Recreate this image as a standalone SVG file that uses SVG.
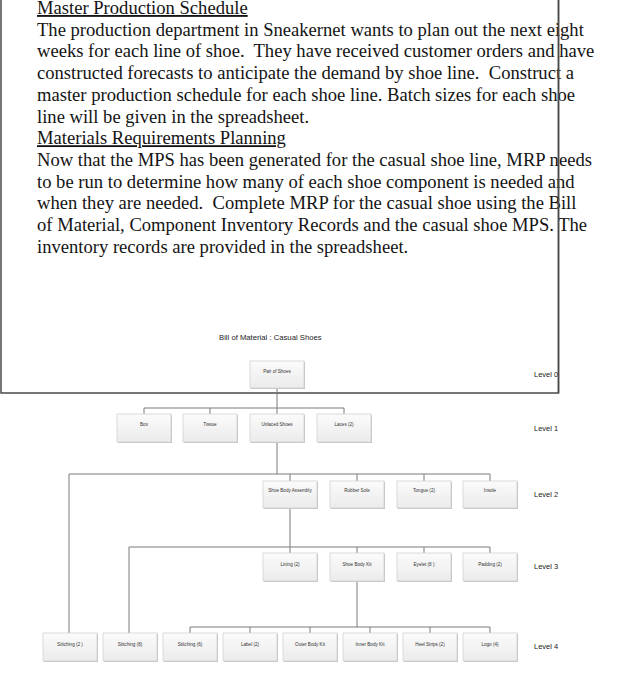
<svg xmlns="http://www.w3.org/2000/svg" width="633" height="700" viewBox="0 0 633 700">
<defs>
<linearGradient id="bg" x1="0" y1="0" x2="0" y2="1">
<stop offset="0" stop-color="#fbfbfb"/>
<stop offset="1" stop-color="#ebebeb"/>
</linearGradient>
</defs>
<style>
.t{font-family:"Liberation Serif","Times New Roman",serif;font-size:18.6px;fill:#141414;white-space:pre}
.u{text-decoration:underline}
.bx{fill:url(#bg);stroke:#d2d2d2;stroke-width:0.8}
.sh{fill:#c4c4c4}
.lb{font-family:"Liberation Sans",Arial,sans-serif;font-size:4.6px;fill:#333;text-anchor:middle}
.lv{font-family:"Liberation Sans",Arial,sans-serif;font-size:7.5px;fill:#222}
.ttl{font-family:"Liberation Sans",Arial,sans-serif;font-size:7.7px;fill:#222}
.c{stroke:#7a7a7a;stroke-width:1;fill:none}
.fr{stroke:#4a4a4a;stroke-width:1.5;fill:none}
</style>
<rect width="633" height="700" fill="#fff"/>
<g id="text">
<text class="t u" x="37" y="14">Master Production Schedule</text>
<text class="t" x="37" y="35.7">The production department in Sneakernet wants to plan out the next eight</text>
<text class="t" x="37" y="57.4">weeks for each line of shoe.  They have received customer orders and have</text>
<text class="t" x="37" y="79.1">constructed forecasts to anticipate the demand by shoe line.  Construct a</text>
<text class="t" x="37" y="100.8">master production schedule for each shoe line. Batch sizes for each shoe</text>
<text class="t" x="37" y="122.5">line will be given in the spreadsheet.</text>
<text class="t u" x="37" y="144.2">Materials Requirements Planning</text>
<text class="t" x="37" y="165.9">Now that the MPS has been generated for the casual shoe line, MRP needs</text>
<text class="t" x="37" y="187.6">to be run to determine how many of each shoe component is needed and</text>
<text class="t" x="37" y="209.3">when they are needed.  Complete MRP for the casual shoe using the Bill</text>
<text class="t" x="37" y="231">of Material, Component Inventory Records and the casual shoe MPS. The</text>
<text class="t" x="37" y="252.7">inventory records are provided in the spreadsheet.</text>
</g>
<g id="frame">
<path class="fr" d="M1,0 V393 H558.5 V0"/>
</g>
<text class="ttl" x="219" y="340">Bill of Material : Casual Shoes</text>
<g id="connectors">
<path class="c" d="M277,388 V408 M144,414 V408 H344 V414 M210,408 V414 M277,408 V414"/>
<path class="c" d="M277,442 V474 M69,633 V474 H490 V481 M290,474 V481 M357,474 V481 M424,474 V481"/>
<path class="c" d="M290,508 V547 M129,633 V547 H490 V553 M290,547 V553 M357,547 V553 M424,547 V553"/>
<path class="c" d="M357,581 V627 M190,633 V627 H490 V633 M250,627 V633 M310,627 V633 M370,627 V633 M430,627 V633"/>
</g>
<g id="n-pair"><rect class="sh" x="251" y="362" width="54" height="27"/><rect class="bx" x="250" y="361" width="54" height="27"/><text class="lb" x="277" y="373">Pair of Shoes</text></g>
<g id="n-box"><rect class="sh" x="118" y="415" width="54" height="28"/><rect class="bx" x="117" y="414" width="54" height="28"/><text class="lb" x="144" y="426">Box</text></g>
<g id="n-tissue"><rect class="sh" x="184" y="415" width="54" height="28"/><rect class="bx" x="183" y="414" width="54" height="28"/><text class="lb" x="210" y="426">Tissue</text></g>
<g id="n-unlaced"><rect class="sh" x="251" y="415" width="54" height="28"/><rect class="bx" x="250" y="414" width="54" height="28"/><text class="lb" x="277" y="426">Unlaced Shoes</text></g>
<g id="n-laces"><rect class="sh" x="318" y="415" width="54" height="28"/><rect class="bx" x="317" y="414" width="54" height="28"/><text class="lb" x="344" y="426">Laces  (2)</text></g>
<g id="n-sba"><rect class="sh" x="264" y="482" width="54" height="27"/><rect class="bx" x="263" y="481" width="54" height="27"/><text class="lb" x="290" y="492">Shoe Body Assembly</text></g>
<g id="n-rubber"><rect class="sh" x="331" y="482" width="54" height="27"/><rect class="bx" x="330" y="481" width="54" height="27"/><text class="lb" x="357" y="492">Rubber Sole</text></g>
<g id="n-tongue"><rect class="sh" x="398" y="482" width="54" height="27"/><rect class="bx" x="397" y="481" width="54" height="27"/><text class="lb" x="424" y="492">Tongue  (2)</text></g>
<g id="n-insole"><rect class="sh" x="464" y="482" width="54" height="27"/><rect class="bx" x="463" y="481" width="54" height="27"/><text class="lb" x="490" y="492">Insole</text></g>
<g id="n-lining"><rect class="sh" x="264" y="554" width="54" height="28"/><rect class="bx" x="263" y="553" width="54" height="28"/><text class="lb" x="290" y="566">Lining  (2)</text></g>
<g id="n-sbk"><rect class="sh" x="331" y="554" width="54" height="28"/><rect class="bx" x="330" y="553" width="54" height="28"/><text class="lb" x="357" y="566">Shoe Body Kit</text></g>
<g id="n-eyelet"><rect class="sh" x="398" y="554" width="54" height="28"/><rect class="bx" x="397" y="553" width="54" height="28"/><text class="lb" x="424" y="566">Eyelet  (8 )</text></g>
<g id="n-padding"><rect class="sh" x="464" y="554" width="54" height="28"/><rect class="bx" x="463" y="553" width="54" height="28"/><text class="lb" x="490" y="566">Padding  (2)</text></g>
<g id="n-st2"><rect class="sh" x="44" y="634" width="54" height="28"/><rect class="bx" x="43" y="633" width="54" height="28"/><text class="lb" x="70" y="646">Stitching  (2 )</text></g>
<g id="n-st8"><rect class="sh" x="104" y="634" width="54" height="28"/><rect class="bx" x="103" y="633" width="54" height="28"/><text class="lb" x="130" y="646">Stitching  (8)</text></g>
<g id="n-st6"><rect class="sh" x="164" y="634" width="54" height="28"/><rect class="bx" x="163" y="633" width="54" height="28"/><text class="lb" x="190" y="646">Stitching  (6)</text></g>
<g id="n-label"><rect class="sh" x="224" y="634" width="54" height="28"/><rect class="bx" x="223" y="633" width="54" height="28"/><text class="lb" x="250" y="646">Label  (2)</text></g>
<g id="n-obk"><rect class="sh" x="284" y="634" width="54" height="28"/><rect class="bx" x="283" y="633" width="54" height="28"/><text class="lb" x="310" y="646">Outer Body Kit</text></g>
<g id="n-ibk"><rect class="sh" x="344" y="634" width="54" height="28"/><rect class="bx" x="343" y="633" width="54" height="28"/><text class="lb" x="370" y="646">Inner Body Kit</text></g>
<g id="n-heel"><rect class="sh" x="404" y="634" width="54" height="28"/><rect class="bx" x="403" y="633" width="54" height="28"/><text class="lb" x="430" y="646">Heel Strips  (2)</text></g>
<g id="n-logo"><rect class="sh" x="464" y="634" width="54" height="28"/><rect class="bx" x="463" y="633" width="54" height="28"/><text class="lb" x="490" y="646">Logo  (4)</text></g>
<g id="levels">
<text class="lv" x="534" y="377">Level 0</text>
<text class="lv" x="534" y="431">Level 1</text>
<text class="lv" x="534" y="497">Level 2</text>
<text class="lv" x="534" y="569">Level 3</text>
<text class="lv" x="534" y="649">Level 4</text>
</g>
<path class="fr" d="M558.5,0 V393"/>
</svg>
